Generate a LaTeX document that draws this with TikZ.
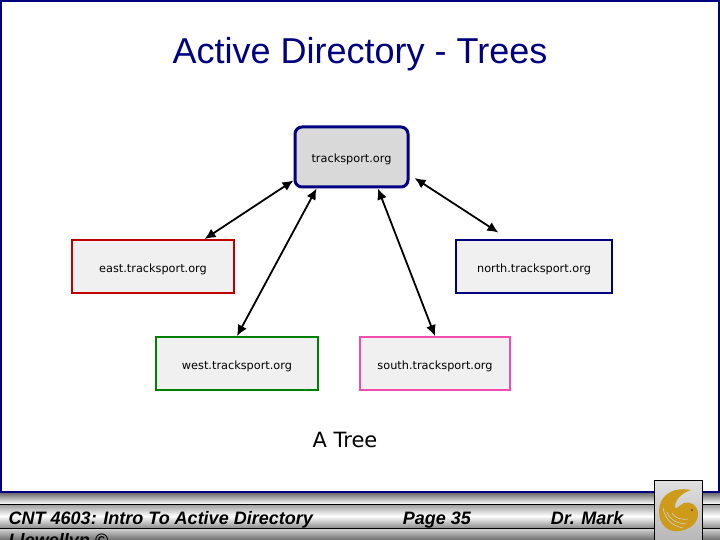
\documentclass[tikz,border=0pt]{standalone}
\usepackage{fontspec}
\setmainfont{Liberation Sans}
\newfontfamily\boxfont{DejaVu Sans}
\usetikzlibrary{arrows.meta}
\definecolor{slideblue}{RGB}{0,0,128}
\definecolor{bandgray}{RGB}{110,110,110}
\definecolor{owlgold}{RGB}{205,155,25}

\begin{document}
\begin{tikzpicture}[x=1pt,y=-1pt,line width=1.5pt,font=\boxfont\fontsize{11.3}{13}\selectfont]
    \tikzstyle{box}=[rectangle,draw,fill=black!6,line width=1.8pt,inner sep=0pt,text height=12pt,text depth=0pt]
    \tikzstyle{link}=[{Latex[length=11pt,width=10pt]}-{Latex[length=11pt,width=10pt]},black,line width=1.8pt]
    \tikzstyle{band}=[top color=bandgray,bottom color=white,draw=none]
    \tikzstyle{foot}=[anchor=base west,inner sep=0pt,font=\fontsize{18}{20}\selectfont\bfseries\itshape\rmfamily]

    \clip (0,0) rectangle (720,540);
    \useasboundingbox (0,0) rectangle (720,540);
    \fill[white] (0,0) rectangle (720,540);

    % Slide frame
    \draw[slideblue,line width=4pt] (0,0) -- (720,0);
    \draw[slideblue,line width=4pt] (0,0) -- (0,492);
    \draw[slideblue,line width=4pt] (720,0) -- (720,492);
    \draw[slideblue,line width=3pt] (0,492) -- (720,492);

    % Footer bands
    \fill[band] (0,493) rectangle (720,504);
    \fill[top color=white!60!black,bottom color=white!55!black,middle color=white] (0,504) rectangle (720,528);
    \fill[top color=white!85!black,bottom color=bandgray] (0,528) rectangle (720,540);
    \draw[black,line width=0.8pt] (0,504) -- (720,504);
    \draw[black,line width=0.8pt] (0,528) -- (720,528);

    % Title
    \node[font=\fontsize{36}{40}\selectfont\rmfamily,text=slideblue,inner sep=0pt] (title) at (360,54) {Active Directory - Trees};

    % Domain boxes
    \node[box,rounded corners=7pt,fill=black!15,draw=slideblue,line width=3pt,minimum width=113pt,minimum height=60pt] (root) at (351.5,157) {tracksport.org};
    \node[box,draw=red!75!black,minimum width=162pt,minimum height=53pt] (east) at (153,266.5) {east.tracksport.org};
    \node[box,draw=slideblue,minimum width=156pt,minimum height=53pt] (north) at (534,266.5) {north.tracksport.org};
    \node[box,draw=green!50!black,minimum width=162pt,minimum height=53pt] (west) at (237,363.5) {west.tracksport.org};
    \node[box,draw=magenta!70!white,minimum width=150pt,minimum height=53pt] (south) at (435,363.5) {south.tracksport.org};

    % Links between the domains
    \draw[link] (root.202) -- (east.28);
    \draw[link,shorten <=6pt,shorten >=12pt] (root.-17) -- (north.133);
    \draw[link] (root.-138) -- (west.90);
    \draw[link] (root.-50) -- (south.90);

    % Caption
    \node[font=\boxfont\fontsize{21}{24}\selectfont,inner sep=0pt] (caption) at (345,440) {A Tree};

    % Footer texts
    \node[foot] (course) at (8,524) {CNT 4603: Intro To Active Directory};
    \node[foot] (author) at (8,546) {Llewellyn ©};
    \node[foot] (page) at (402,524) {Page 35};
    \node[foot] (name) at (550,524) {Dr. Mark};

    % Logo
    \fill[top color=white!88!black,bottom color=white!72!black] (654,480) rectangle (702,540);
    \draw[black,line width=0.8pt] (654,540) -- (654,480) -- (702,480) -- (702,540);
    \fill[owlgold] (691,490) .. controls (670,486) and (659,498) .. (659,511)
        .. controls (659,525) and (668,533) .. (680,531)
        .. controls (691,529) and (699,522) .. (698,512)
        .. controls (697,505) and (690,501) .. (684,503)
        .. controls (680,505) and (677,509) .. (675,508)
        .. controls (674,501) and (681,493) .. (691,490) -- cycle;
    \draw[white!82!black,line width=0.6pt] (663,508) .. controls (665,519) and (672,526) .. (683,528);
    \draw[white!82!black,line width=0.6pt] (667,512) .. controls (670,520) and (676,523) .. (686,524);
    \draw[white!82!black,line width=0.6pt] (672,513) .. controls (675,518) and (680,520) .. (688,519);
    \fill[black!70] (692,510) circle (1.2pt);
\end{tikzpicture}
\end{document}
